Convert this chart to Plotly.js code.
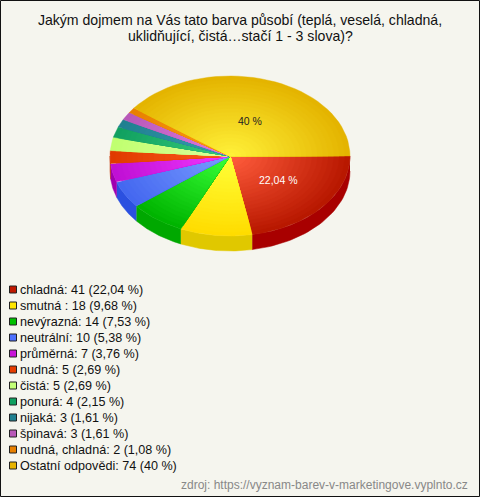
<!DOCTYPE html>
<html><head><meta charset="utf-8">
<script src="https://cdn.plot.ly/plotly-3.0.1.min.js"></script>
<style>html,body{margin:0;padding:0;background:#f5f5ee}#c{width:480px;height:497px}</style>
</head><body><div id="c"></div>
<script>
const categories = ["chladná","smutná ","nevýrazná","neutrální","průměrná","nudná","čistá","ponurá","nijaká","špinavá","nudná, chladná","Ostatní odpovědi"];
const counts = [41,18,14,10,7,5,5,4,3,3,2,74];
const percentLabels = ["22,04 %","9,68 %","7,53 %","5,38 %","3,76 %","2,69 %","2,69 %","2,15 %","1,61 %","1,61 %","1,08 %","40 %"];
const innerColors = ["#ff5c3c","#ffff38","#38ff38","#7a9cff","#f038ff","#ff5c1c","#dcff9c","#38cc7c","#389cb0","#e07ce0","#ff9c14","#fff038"];
const outerColors = ["#b81800","#ffdc00","#00b400","#4468f0","#c010d4","#e03a00","#c0ff70","#10a060","#208090","#b858b8","#e88000","#e4b400"];
const sideColors  = ["#a80000","#e0c800","#00a800","#2b50e0","#a000b0","#c03000","#a0e060","#008850","#106878","#984098","#c86800","#c09800"];
const legendColors= ["#c01800","#ffe600","#00c000","#4c70ff","#c814d8","#e63c00","#c4ff78","#10a060","#208090","#b858b8","#e88000","#e8b400"];
const titleLines = ["Jakým dojmem na Vás tato barva působí (teplá, veselá, chladná,","uklidňující, čistá…stačí 1 - 3 slova)?"];
const sourceText = "zdroj: https://vyznam-barev-v-marketingove.vyplnto.cz";

const cx=230, cy=156, rx=120, ry=80, depth=15, rings=22;
const total = counts.reduce((a,b)=>a+b,0);
const hex=c=>[1,3,5].map(i=>parseInt(c.substr(i,2),16));
const mix=(a,b,t)=>{const A=hex(a),B=hex(b);return `rgb(${A.map((v,i)=>Math.round(v+(B[i]-v)*t)).join(",")})`;};
const rad=d=>d*Math.PI/180;
const traces=[];
let acc=0;
const spans=counts.map(v=>{const s=[acc/total*360,(acc+v)/total*360];acc+=v;return s;});

// side wall (front half only)
spans.forEach(([a,b],i)=>{
  const s=a, e=Math.min(b,180);
  if(e<=s) return;
  const xs=[],ys=[];
  for(let d=s;d<=e+1e-6;d+=Math.max((e-s)/40,0.5)){xs.push(cx+rx*Math.cos(rad(d)));ys.push(cy+ry*Math.sin(rad(d)));}
  xs.push(cx+rx*Math.cos(rad(e)));ys.push(cy+ry*Math.sin(rad(e)));
  const n=xs.length;
  for(let k=n-1;k>=0;k--){xs.push(xs[k]);ys.push(ys[k]+depth);}
  traces.push({type:"scatter",mode:"lines",x:xs,y:ys,fill:"toself",fillcolor:sideColors[i],line:{color:sideColors[i],width:0.5},hoverinfo:"skip",showlegend:false});
});
// top surface, drawn as shrinking wedges to give the radial shading
spans.forEach(([a,b],i)=>{
  for(let k=0;k<rings;k++){
    const f=1-k/rings, col=mix(outerColors[i],innerColors[i],k/(rings-1));
    const xs=[cx],ys=[cy];
    const step=Math.max((b-a)/40,0.5);
    for(let d=a;d<b;d+=step){xs.push(cx+f*rx*Math.cos(rad(d)));ys.push(cy+f*ry*Math.sin(rad(d)));}
    xs.push(cx+f*rx*Math.cos(rad(b)));ys.push(cy+f*ry*Math.sin(rad(b)));
    xs.push(cx);ys.push(cy);
    traces.push({type:"scatter",mode:"lines",x:xs,y:ys,fill:"toself",fillcolor:col,line:{color:col,width:0.4},name:categories[i],
      hoverinfo:k===0?"name":"skip",showlegend:false});
  }
});

const font="Liberation Sans, Arial, sans-serif";
const ann=[];
ann.push({xref:"x",yref:"y",x:240,y:36,text:titleLines[1],showarrow:false,xanchor:"center",yanchor:"middle",font:{family:font,size:14.1,color:"#111"}});
// slice labels for the two largest slices
[[0,"#ffffff",2,-1.5],[11,"#222222",1.5,3]].forEach(([i,col,dx,dy])=>{
  const m=rad((spans[i][0]+spans[i][1])/2);
  ann.push({xref:"x",yref:"y",x:cx+0.5*rx*Math.cos(m)+dx,y:cy+0.5*ry*Math.sin(m)+dy,text:percentLabels[i],showarrow:false,xanchor:"center",yanchor:"middle",font:{family:font,size:10.5,color:col}});
});
const shapes=[];
categories.forEach((c,i)=>{
  const rowY=289.5+16*i;
  ann.push({xref:"x",yref:"y",x:20,y:rowY,text:`${c}: ${counts[i]} (${percentLabels[i]})`,showarrow:false,xanchor:"left",yanchor:"middle",xshift:-2,font:{family:font,size:12.6,color:"#111"}});
  shapes.push({type:"rect",xref:"x",yref:"y",x0:9.5,x1:16.5,y0:rowY-3.5,y1:rowY+3.5,fillcolor:legendColors[i],line:{color:"#222",width:1}});
});
ann.push({xref:"x",yref:"y",x:470,y:485,text:sourceText,showarrow:false,xanchor:"right",yanchor:"middle",font:{family:font,size:12,color:"#888888"}});
shapes.push({type:"rect",xref:"x",yref:"y",x0:0.5,x1:479.5,y0:0.5,y1:496.5,fillcolor:"rgba(0,0,0,0)",line:{color:"#111",width:1},layer:"above"});

Plotly.newPlot("c",traces,{
  width:480,height:497,margin:{l:0,r:0,t:0,b:0},
  paper_bgcolor:"#f5f5ee",plot_bgcolor:"#f5f5ee",
  title:{text:titleLines[0],x:0.5,xanchor:"center",xref:"paper",y:1-20/497,yanchor:"middle",yref:"paper",font:{family:font,size:14.1,color:"#111"}},
  xaxis:{range:[0,480],visible:false,fixedrange:true},
  yaxis:{range:[497,0],visible:false,fixedrange:true},
  annotations:ann,shapes:shapes,showlegend:false
},{displayModeBar:false,responsive:false});
</script></body></html>
